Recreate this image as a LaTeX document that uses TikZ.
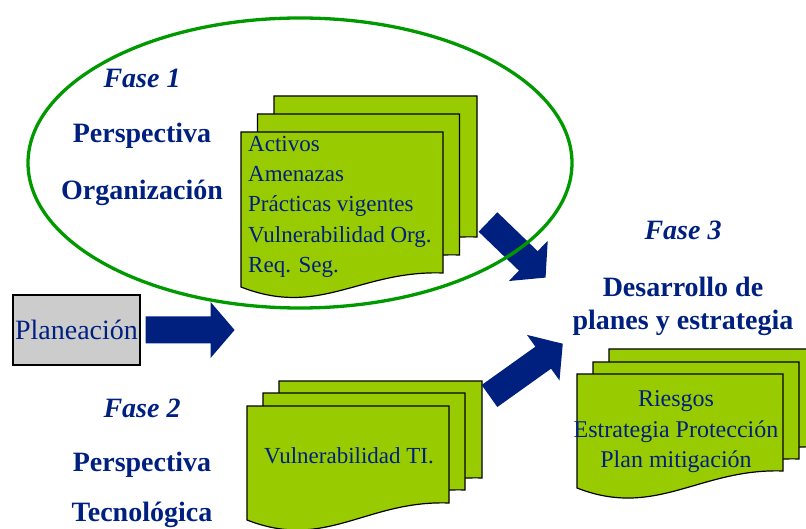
\documentclass[tikz,border=0pt]{standalone}
\usepackage{fontspec}
\setmainfont{Liberation Serif}
\definecolor{navy}{RGB}{0,32,128}
\definecolor{leaf}{RGB}{153,204,0}
\definecolor{ringgreen}{RGB}{0,153,0}
\definecolor{boxgray}{RGB}{204,204,204}
\tikzset{
  sheet/.style={fill=leaf, draw=black, line width=1.2pt, line join=miter},
  % one page of a document stack: width, height at the right edge, extra drop at the left edge
  pics/docsheet/.style n args={3}{code={
    \path[sheet] (0,0) -- (#1,0) -- (#1,#2)
      .. controls +(-83,-3) and +(79,31) .. (0,{#2+#3}) -- cycle;}},
  % thick block arrow pointing along +x, argument = total length
  pics/blockarrow/.style={code={
    \fill[navy] (0,-13.5) -- ({#1-24},-13.5) -- ({#1-24},-28) -- (#1,0)
      -- ({#1-24},28) -- ({#1-24},13.5) -- (0,13.5) -- cycle;}},
  head/.style={text=navy, font=\fontsize{28}{28}\selectfont\bfseries, inner sep=0pt, anchor=base},
  phase/.style={head, font=\fontsize{28}{28}\selectfont\bfseries\itshape},
  item/.style={text=navy, font=\fontsize{23}{23}\selectfont, inner sep=0pt, anchor=base west},
  citem/.style={text=navy, font=\fontsize{24}{24}\selectfont, inner sep=0pt, anchor=base},
  planbox/.style={fill=boxgray, draw=black, line width=1.2pt, inner sep=0pt,
    minimum width=127pt, minimum height=70pt, text height=20pt, text depth=0pt,
    text=navy, font=\fontsize{28}{28}\selectfont},
  ring/.style={draw=ringgreen, line width=3.3pt},
}
\begin{document}
\begin{tikzpicture}[x=1pt, y=-1pt]
\useasboundingbox (0,0) rectangle (806,529);
\clip (0,0) rectangle (806,529);

% phase 1 document stack
\pic at (274,96) {docsheet={203}{141}{14}};
\pic at (257.5,114) {docsheet={202}{141}{14}};
\pic at (241,132) {docsheet={202}{141}{14}};
\node[item] (activos) at (248,152) {Activos};
\node[item] (amenazas) at (248,182) {Amenazas};
\node[item] (practicas) at (248,212) {Prácticas vigentes};
\node[item] (vulnorg) at (248,243) {Vulnerabilidad Org.};
\node[item] (reqseg) at (248,273) {Req. Seg.};

% phase 2 document stack
\pic at (279,381) {docsheet={203}{97}{17}};
\pic at (263,393) {docsheet={202}{97}{17}};
\pic at (247,406) {docsheet={202}{97}{17}};
\node[citem, font=\fontsize{23}{23}\selectfont] (vulnti) at (349,463) {Vulnerabilidad TI.};

% phase 3 document stack
\pic at (609,349) {docsheet={206}{98}{17}};
\pic at (593,362) {docsheet={206}{97}{17}};
\pic at (577,374) {docsheet={206}{97}{17}};
\node[citem] (riesgos) at (676,406) {Riesgos};
\node[citem] (estrategia) at (676,437) {Estrategia Protección};
\node[citem] (mitigacion) at (676,467) {Plan mitigación};

% planning box
\node[planbox] (plan) at (76.5,330) {Planeación};

% phase headings
\node[phase] (f1) at (142,88) {Fase 1};
\node[head] (f1a) at (142,143) {Perspectiva};
\node[head] (f1b) at (142,200) {Organización};
\node[phase] (f2) at (142,417) {Fase 2};
\node[head] (f2a) at (142,471) {Perspectiva};
\node[head] (f2b) at (142,521) {Tecnológica};
\node[phase] (f3) at (683,240) {Fase 3};
\node[head] (f3a) at (683,297) {Desarrollo de};
\node[head] (f3b) at (683,330) {planes y estrategia};

% flow arrows
\coordinate (a1) at ([xshift=5pt]plan.east);
\coordinate (a2) at (488,222);
\coordinate (a3) at (489.5,396);
\pic at (a1) {blockarrow=89};
\pic[rotate=-44] at (a2) {blockarrow=80};
\pic[rotate=35.5] at (a3) {blockarrow=90};

% phase 1 boundary
\draw[ring] (300,163) ellipse [x radius=272, y radius=145];
\end{tikzpicture}
\end{document}
